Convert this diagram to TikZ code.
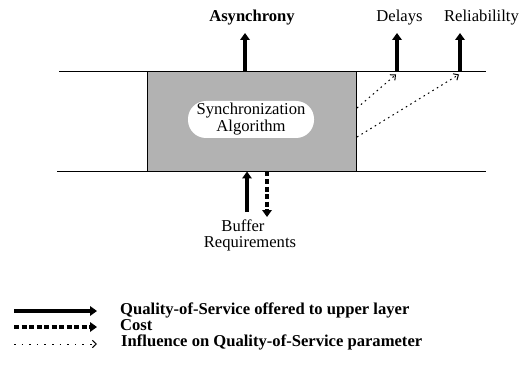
\documentclass[tikz,border=0pt]{standalone}
\usepackage{fontspec}
\setmainfont{Liberation Serif}
\usetikzlibrary{arrows.meta}
\begin{document}
\begin{tikzpicture}[x=1pt,y=-1pt,
  txt/.style={font=\fontsize{16.6}{16.5}\selectfont, inner sep=0pt, anchor=base},
  bld/.style={font=\fontsize{16.6}{16.5}\selectfont\bfseries, inner sep=0pt, anchor=base},
  lgd/.style={font=\fontsize{16.6}{16.5}\selectfont\bfseries, inner sep=0pt, anchor=base west},
  qos/.style={line width=3.6pt, -{Triangle[length=7pt,width=9.5pt]}},
  cost/.style={line width=3.6pt, dash pattern=on 5pt off 2.5pt, -{Triangle[length=7pt,width=9.5pt]}},
  infl/.style={line width=1pt, dash pattern=on 1.6pt off 3.6pt, -{Straight Barb[length=4pt,width=7.5pt,line width=1pt]}},
  infll/.style={infl, dash pattern=on 1.6pt off 6pt},
  layer/.style={line width=0.9pt},
  algbox/.style={draw, fill=gray!60, line width=0.9pt, minimum width=209pt, minimum height=100pt, inner sep=0pt},
  pill/.style={fill=white, rounded corners=18pt, minimum width=126pt, minimum height=37pt, inner sep=0pt}]
\useasboundingbox (0,0) rectangle (526,371);
% layer lines
\coordinate (tl) at (59,71); \coordinate (tr) at (486,71);
\coordinate (bl) at (57,171); \coordinate (br) at (486,171);
\draw[layer] (tl) -- (tr);
\draw[layer] (bl) -- (br);
% box
\node[algbox] (box) at (251.5,121) {};
\node[pill] (alg) at (251,119.5) {};
\node[txt] (alg1) at (251,115) {Synchronization};
\node[txt] (alg2) at (251,132) {Algorithm};
% top arrows
\coordinate (as0) at (245,71); \coordinate (as1) at (245,33);
\coordinate (de0) at (397,71); \coordinate (de1) at (397,33);
\coordinate (re0) at (460,71); \coordinate (re1) at (460,33);
\draw[qos] (as0) -- (as1);
\draw[qos] (de0) -- (de1);
\draw[qos] (re0) -- (re1);
\node[bld] (asy) at (252,22) {Asynchrony};
\node[txt] (del) at (399.5,22) {Delays};
\node[txt] (rel) at (481.5,22) {Reliabililty};
% influence arrows
\coordinate (i1a) at (357,108); \coordinate (i1b) at (396,74.5);
\coordinate (i2a) at (357,137); \coordinate (i2b) at (459,74.5);
\draw[infl] (i1a) -- (i1b);
\draw[infl] (i2a) -- (i2b);
% bottom arrows
\coordinate (bu0) at (247,212); \coordinate (bu1) at (247,171.5);
\coordinate (co0) at (267,171.5); \coordinate (co1) at (267,217);
\draw[qos] (bu0) -- (bu1);
\draw[cost] (co0) -- (co1);
\node[txt] (buf1) at (243,231) {Buffer};
\node[txt] (buf2) at (250,247) {Requirements};
% legend
\coordinate (l1a) at (14,311); \coordinate (l1b) at (97,311);
\coordinate (l2a) at (14,327); \coordinate (l2b) at (97,327);
\coordinate (l3a) at (14,344); \coordinate (l3b) at (97,344);
\draw[qos] (l1a) -- (l1b);
\draw[cost] (l2a) -- (l2b);
\draw[infll] (l3a) -- (l3b);
\node[lgd] (t1) at (120,314) {Quality-of-Service offered to upper layer};
\node[lgd] (t2) at (120,330) {Cost};
\node[lgd] (t3) at (121,346.5) {Influence on Quality-of-Service parameter};
\end{tikzpicture}
\end{document}
